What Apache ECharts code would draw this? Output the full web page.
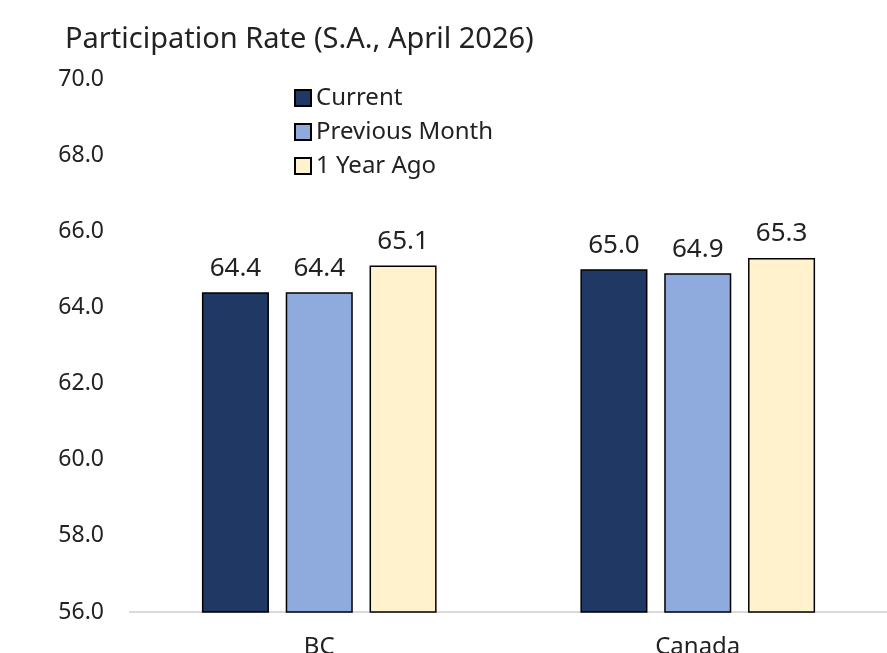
<!DOCTYPE html>
<html>
<head>
<meta charset="utf-8">
<script src="https://cdn.jsdelivr.net/npm/echarts@6/dist/echarts.min.js"></script>
<style>
  html, body { margin: 0; padding: 0; background: #fff; }
  #chart { width: 887px; height: 653px; }
</style>
</head>
<body>
<div id="chart"></div>
<script>
const categories = ['BC', 'Canada']
const current = [64.4, 65.0]
const previousMonth = [64.4, 64.9]
const yearAgo = [65.1, 65.3]

const font = 'Noto Sans'
const chart = echarts.init(document.getElementById('chart'))

const barSeries = (name, data, color) => ({
  name,
  type: 'bar',
  data,
  barGap: '25%',
  barCategoryGap: '38%',
  itemStyle: { color, borderColor: '#000', borderWidth: 1.5 },
  label: {
    show: true,
    position: 'top',
    distance: 11,
    formatter: p => p.value.toFixed(1),
    fontFamily: font,
    fontSize: 26,
    color: '#222'
  }
})

const option = {
  animation: false,
  title: {
    text: 'Participation Rate (S.A., April 2026)',
    left: 60,
    top: 20,
    textStyle: { fontFamily: font, fontSize: 29, fontWeight: 'normal', color: '#222' }
  },
  legend: {
    orient: 'vertical',
    left: 289,
    top: 81,
    itemWidth: 16,
    itemHeight: 16,
    itemGap: 10,
    icon: 'rect',
    textStyle: { fontFamily: font, fontSize: 24, color: '#222' }
  },
  // the category labels run off the bottom edge in the original, so don't let the grid shrink
  grid: { left: 130, right: 0, top: 79, bottom: 41, outerBoundsMode: 'none', containLabel: false },
  xAxis: {
    type: 'category',
    data: categories,
    axisLine: { lineStyle: { color: '#d9d9d9', width: 2 } },
    axisTick: { show: false },
    axisLabel: { fontFamily: font, fontSize: 24, color: '#222', margin: 23 }
  },
  yAxis: {
    type: 'value',
    min: 56,
    max: 70,
    interval: 2,
    axisLine: { show: false },
    axisTick: { show: false },
    splitLine: { show: false },
    axisLabel: {
      formatter: v => v.toFixed(1),
      fontFamily: font,
      fontSize: 23,
      color: '#222',
      margin: 26
    }
  },
  series: [
    barSeries('Current', current, '#203864'),
    barSeries('Previous Month', previousMonth, '#8FAADC'),
    barSeries('1 Year Ago', yearAgo, '#FFF2CC')
  ]
}

chart.setOption(option)
</script>
</body>
</html>
